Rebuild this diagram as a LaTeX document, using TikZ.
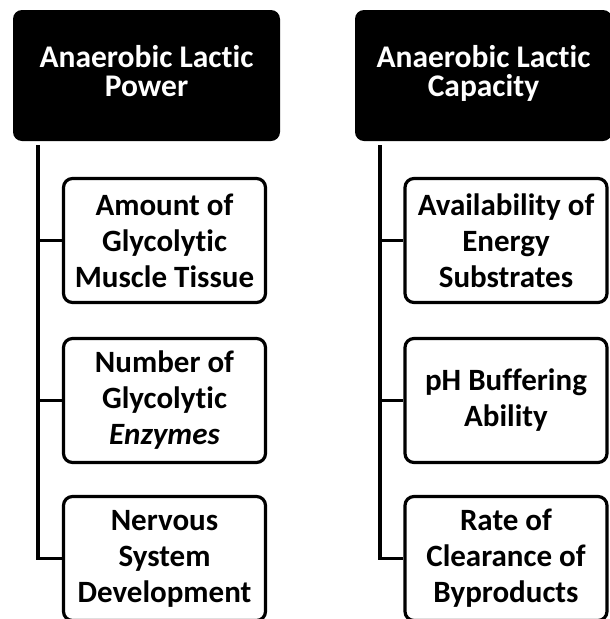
\documentclass[tikz,border=0pt]{standalone}
\usepackage{fontspec}
\setmainfont{Carlito}[Ligatures=NoCommon]
\usetikzlibrary{positioning, calc}

\begin{document}
\begin{tikzpicture}[x=1pt, y=-1pt,
    head/.style={fill=black, rounded corners=9pt, text=white, align=center,
      inner sep=0pt, minimum height=131pt, text depth=9pt,
      font=\fontsize{31.5}{29}\selectfont\bfseries},
    leaf/.style={draw=black, line width=3.2pt, rounded corners=9pt, align=center,
      inner sep=0pt, minimum width=202pt, minimum height=124pt,
      font=\fontsize{31}{36}\selectfont\bfseries},
    link/.style={line width=3.4pt}]
      \useasboundingbox (0, 0) rectangle (610, 619);

      \node[head, minimum width=267pt] (hpow) at (146.5, 75.5) {Anaerobic Lactic\\Power};
      \node[head, minimum width=257pt] (hcap) at (483.5, 75.5) {Anaerobic Lactic\\Capacity};

      \node[leaf] (p1) at (164.5, 240.5) {Amount of\\Glycolytic\\Muscle Tissue};
      \node[leaf] (p2) at (164.5, 400.5) {Number of\\Glycolytic\\\textit{Enzymes}};
      \node[leaf] (p3) at (164.5, 558.5) {Nervous\\System\\Development};

      \node[leaf] (c1) at (506, 240.5) {Availability of\\Energy\\Substrates};
      \node[leaf] (c2) at (506, 400.5) {pH Buffering\\Ability};
      \node[leaf] (c3) at (506, 558.5) {Rate of\\Clearance of\\Byproducts};

      \coordinate (ptop) at (38, 145);
      \coordinate (ctop) at (380, 145);

      \draw[link] (ptop) |- (p3.west);
      \draw[link] (ptop |- p1.west) -- (p1.west);
      \draw[link] (ptop |- p2.west) -- (p2.west);

      \draw[link] (ctop) |- (c3.west);
      \draw[link] (ctop |- c1.west) -- (c1.west);
      \draw[link] (ctop |- c2.west) -- (c2.west);

    \end{tikzpicture}
\end{document}
